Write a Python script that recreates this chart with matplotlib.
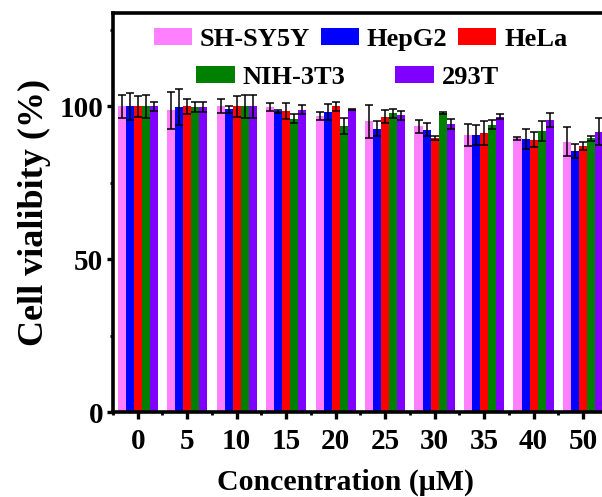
import numpy as np
import matplotlib.pyplot as plt
from matplotlib.patches import Patch
from matplotlib.ticker import MultipleLocator

plt.rcParams["font.family"] = ["Liberation Serif", "DejaVu Serif"]
plt.rcParams["font.weight"] = "bold"

concentrations = ["0", "5", "10", "15", "20", "25", "30", "35", "40", "50"]
cell_lines = ["SH-SY5Y", "HepG2", "HeLa", "NIH-3T3", "293T"]
colors = ["#FF80FF", "#0000FF", "#FF0000", "#008000", "#8000FF"]

sh_sy5y = [100.0, 98.7, 100.1, 99.9, 97.0, 95.1, 93.5, 90.7, 89.6, 88.5]
hepg2 = [100.0, 99.8, 99.1, 98.5, 98.3, 92.7, 92.4, 90.7, 89.4, 85.3]
hela = [100.0, 100.1, 100.0, 98.5, 100.0, 96.7, 89.8, 91.3, 89.1, 87.1]
nih_3t3 = [100.0, 99.8, 100.0, 96.0, 93.6, 97.8, 97.8, 94.0, 92.1, 89.6]
hek_293t = [100.0, 99.8, 100.0, 99.0, 99.0, 97.1, 94.3, 96.7, 95.6, 91.8]

sh_sy5y_err = [3.7, 6.2, 2.3, 1.4, 1.3, 5.4, 2.2, 3.6, 0.5, 4.8]
hepg2_err = [4.5, 5.8, 1.2, 0.5, 2.6, 2.5, 2.2, 3.3, 3.2, 2.3]
hela_err = [3.5, 2.5, 3.4, 2.6, 1.4, 2.0, 0.7, 3.8, 2.5, 1.4]
nih_3t3_err = [3.7, 1.7, 3.6, 1.4, 2.5, 1.4, 0.3, 1.5, 3.3, 0.9]
hek_293t_err = [1.5, 1.7, 3.8, 1.5, 0.3, 1.5, 1.7, 0.7, 2.3, 4.5]

values = [sh_sy5y, hepg2, hela, nih_3t3, hek_293t]
errors = [sh_sy5y_err, hepg2_err, hela_err, nih_3t3_err, hek_293t_err]

fig = plt.figure(figsize=(6.02, 4.97), dpi=100)
ax = fig.add_axes([0.1877, 0.1704, 0.822, 0.803])

x = np.arange(len(concentrations))
width = 0.163
for i, (vals, errs, color) in enumerate(zip(values, errors, colors)):
    offset = (i - 2) * width
    ax.bar(x + offset, vals, width, color=color, linewidth=0)
    ax.errorbar(x + offset, vals, yerr=errs, fmt="none", ecolor="black",
                elinewidth=1.1, capsize=2.6, capthick=1.1)

ax.set_xlim(-0.5, 9.5)
ax.set_ylim(0, 130.5)
ax.set_xticks(x)
ax.set_xticklabels(concentrations)
ax.xaxis.set_minor_locator(MultipleLocator(0.5))
ax.set_yticks([0, 50, 100])
ax.yaxis.set_minor_locator(MultipleLocator(25))

for spine in ax.spines.values():
    spine.set_linewidth(2.6)
ax.tick_params(axis="x", which="major", direction="out", length=5, width=2.4,
               labelsize=21, pad=6)
ax.tick_params(axis="y", which="major", direction="out", length=4, width=2.4,
               labelsize=21, pad=3)
ax.tick_params(axis="both", which="minor", direction="out", length=2.5, width=2.0)
ax.tick_params(axis="y", which="both", right=False)
ax.tick_params(axis="x", which="both", top=False)

ax.set_xlabel("Concentration (μM)", fontsize=21.5, fontweight="bold")
ax.xaxis.set_label_coords(0.47, -0.14)
ax.set_ylabel("Cell vialibity (%)", fontsize=26, fontweight="bold", labelpad=6)

handles = [Patch(facecolor=c, edgecolor="none") for c in colors]
leg1 = ax.legend(handles[:3], cell_lines[:3], ncol=3, loc="center",
                 bbox_to_anchor=(0.50, 0.935), frameon=False, fontsize=19,
                 handlelength=1.45, handleheight=0.65, columnspacing=0.4,
                 handletextpad=0.3, borderaxespad=0)
ax.add_artist(leg1)
ax.legend(handles[3:], cell_lines[3:], ncol=2, loc="center",
          bbox_to_anchor=(0.474, 0.84), frameon=False, fontsize=19,
          handlelength=1.45, handleheight=0.65, columnspacing=1.9,
          handletextpad=0.3, borderaxespad=0)

fig.savefig("out.png", dpi=100)
